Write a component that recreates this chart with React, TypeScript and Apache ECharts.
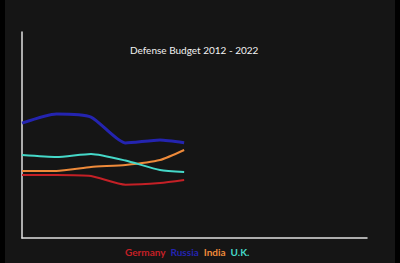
import React, { useEffect, useRef } from "react";
import * as echarts from "echarts";

// Defense spending, billions USD; the last point is the line's leading edge mid-way into 2017
const years = [2012, 2013, 2014, 2015, 2016, 2016.7];
const germany = [45.9, 45.9, 45.1, 38.8, 40.0, 42.2];
const russia = [83.7, 90.3, 88.1, 69.2, 71.4, 69.4];
const india = [48.8, 48.8, 51.7, 53.2, 56.8, 64.1];
const uk = [60.4, 59.0, 61.2, 56.4, 49.5, 48.0];

const seriesNames = ["Germany", "Russia", "India", "U.K."];
const seriesColors = ["#c42026", "#2424b0", "#ee8a3a", "#45d8c8"];
const seriesValues = [germany, russia, india, uk];

const titleText = "Defense Budget 2012 - 2022";

export default function App() {
  const ref = useRef<HTMLDivElement>(null);

  useEffect(() => {
    document.body.style.margin = "0";
    const chart = echarts.init(ref.current!, undefined, { renderer: "svg" });
    chart.setOption({
      animation: false,
      backgroundColor: "#151515",
      title: {
        text: titleText,
        left: 130,
        top: 45,
        padding: 0,
        textStyle: {
          color: "#f2f2f2",
          fontFamily: "Lato",
          fontSize: 10,
          fontWeight: "normal",
        },
      },
      legend: {
        bottom: 6,
        left: 120,
        padding: 0,
        icon: "none",
        itemWidth: 0,
        itemGap: 0,
        selectedMode: false,
        data: seriesNames.map((n, i) => ({
          name: n,
          textStyle: { color: seriesColors[i] },
        })),
        textStyle: { fontFamily: "Lato", fontSize: 10, fontWeight: "bold" },
      },
      grid: { left: 22, right: 33, top: 32, bottom: 25 },
      xAxis: {
        type: "value",
        min: 2012,
        max: 2022,
        axisLine: { show: true, lineStyle: { color: "#e0e0e0", width: 1.5 } },
        axisTick: { show: false },
        axisLabel: { show: false },
        splitLine: { show: false },
      },
      yAxis: {
        type: "value",
        min: 0,
        max: 150,
        axisLine: { show: true, lineStyle: { color: "#e0e0e0", width: 1.5 } },
        axisTick: { show: false },
        axisLabel: { show: false },
        splitLine: { show: false },
      },
      graphic: [
        { type: "rect", left: 0, top: 0, shape: { width: 5, height: 263 }, style: { fill: "#000" } },
        { type: "rect", right: 0, top: 0, shape: { width: 5, height: 263 }, style: { fill: "#000" } },
      ],
      series: seriesNames.map((n, i) => ({
        name: n,
        type: "line",
        smooth: 0.2,
        showSymbol: false,
        color: seriesColors[i],
        lineStyle: { color: seriesColors[i], width: n === "Russia" ? 3 : 2 },
        data: years.map((y, k) => [y, seriesValues[i][k]]),
      })),
    });
    return () => chart.dispose();
  }, []);

  return <div ref={ref} style={{ width: 400, height: 263 }} />;
}
